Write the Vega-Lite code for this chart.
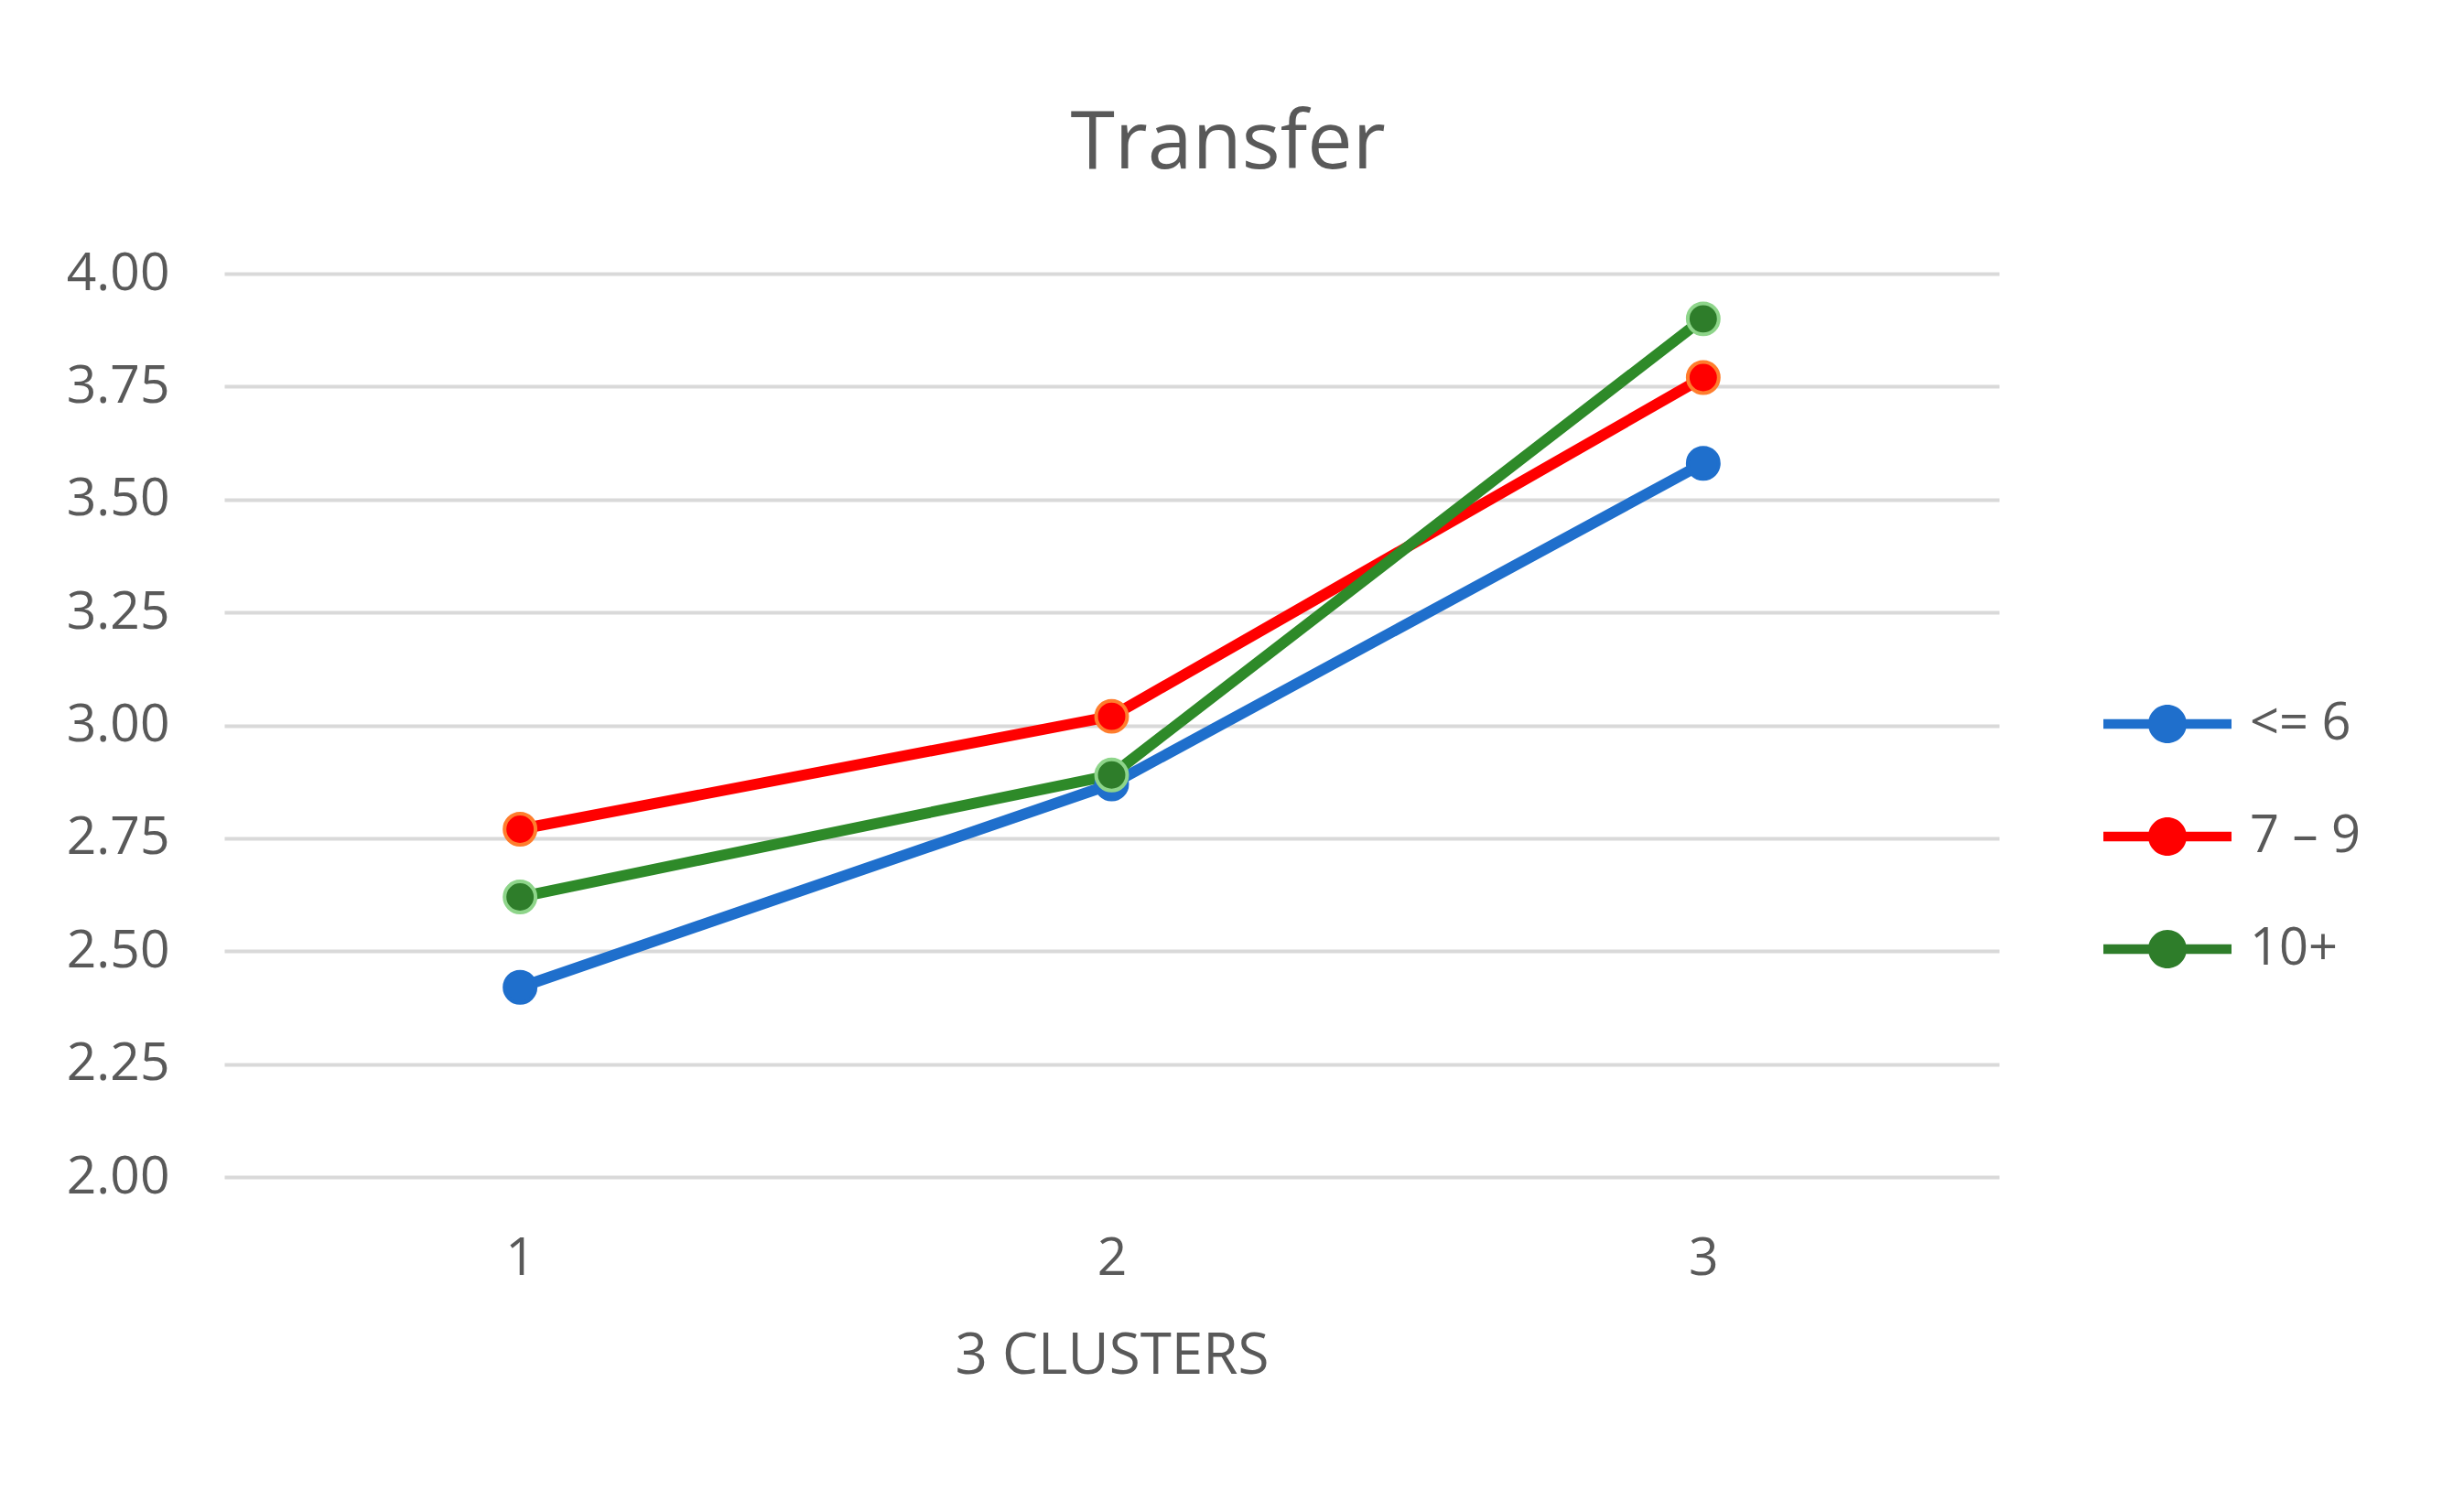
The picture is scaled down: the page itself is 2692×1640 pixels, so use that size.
{
  "$schema": "https://vega.github.io/schema/vega-lite/v6.json",
  "autosize": {"type": "none"},
  "padding": {"left": 245, "top": 299, "right": 508, "bottom": 354},
  "width": 1939,
  "height": 987,
  "background": "white",
  "title": {"text": "Transfer", "fontSize": 88, "font": "Open Sans", "fontWeight": "normal", "color": "#595959", "anchor": "middle", "frame": "group", "offset": -2, "dx": 127, "baseline": "alphabetic"},
  "data": {"values": [
    {"cluster": "1", "group": "<= 6", "value": 2.42},
    {"cluster": "2", "group": "<= 6", "value": 2.87},
    {"cluster": "3", "group": "<= 6", "value": 3.58},
    {"cluster": "1", "group": "7 – 9", "value": 2.77},
    {"cluster": "2", "group": "7 – 9", "value": 3.02},
    {"cluster": "3", "group": "7 – 9", "value": 3.77},
    {"cluster": "1", "group": "10+", "value": 2.62},
    {"cluster": "2", "group": "10+", "value": 2.89},
    {"cluster": "3", "group": "10+", "value": 3.90}
  ]},
  "encoding": {
    "x": {"field": "cluster", "type": "ordinal", "axis": {"title": "3 CLUSTERS", "titleFont": "Open Sans", "titleFontSize": 62, "titleFontWeight": "normal", "titleColor": "#595959", "titlePadding": 48, "labelFont": "Open Sans", "labelFontSize": 57, "labelColor": "#595959", "labelAngle": 0, "labelBaseline": "alphabetic", "labelPadding": 106, "ticks": false, "tickSize": 0, "domain": false, "grid": false}},
    "y": {"field": "value", "type": "quantitative", "scale": {"domain": [2, 4], "nice": false, "zero": false}, "axis": {"title": null, "values": [2, 2.25, 2.5, 2.75, 3, 3.25, 3.5, 3.75, 4], "format": ".2f", "labelFont": "Open Sans", "labelFontSize": 57, "labelColor": "#595959", "labelPadding": 60, "ticks": false, "tickSize": 0, "domain": false, "grid": true, "gridColor": "#d9d9d9", "gridWidth": 4}}
  },
  "layer": [
    {
      "mark": {"type": "line", "strokeWidth": 12, "strokeCap": "round"},
      "encoding": {
        "color": {"field": "group", "type": "nominal", "scale": {"domain": ["<= 6", "7 – 9", "10+"], "range": ["#1f6fcc", "#ff0000", "#2e8a29"]}, "legend": {"title": null, "orient": "none", "legendX": 2088, "legendY": 457, "padding": 0, "symbolType": "M-2,-0.15H2V0.15H-2Z M0.6,0A0.6,0.6,0,1,1,-0.6,0A0.6,0.6,0,1,1,0.6,0Z", "symbolSize": 4900, "symbolStrokeWidth": 0, "symbolOpacity": 1, "labelFont": "Open Sans", "labelFontSize": 56, "labelColor": "#595959", "labelOffset": 55, "rowPadding": 60, "encode": {"symbols": {"update": {"fill": {"scale": "color", "field": "value"}, "fillOpacity": {"value": 1}, "strokeWidth": {"value": 0}}}}}}
      }
    },
    {
      "mark": {"type": "point", "filled": true, "size": 1150, "strokeWidth": 4, "opacity": 1},
      "encoding": {
        "fill": {"field": "group", "type": "nominal", "scale": {"domain": ["<= 6", "7 – 9", "10+"], "range": ["#1f6fcc", "#ff0000", "#2e7d2a"]}, "legend": null},
        "stroke": {"field": "group", "type": "nominal", "scale": {"domain": ["<= 6", "7 – 9", "10+"], "range": ["#1f6fcc", "#ff7d2d", "#8ed58a"]}, "legend": null}
      }
    }
  ],
  "config": {"view": {"stroke": null}}
}
